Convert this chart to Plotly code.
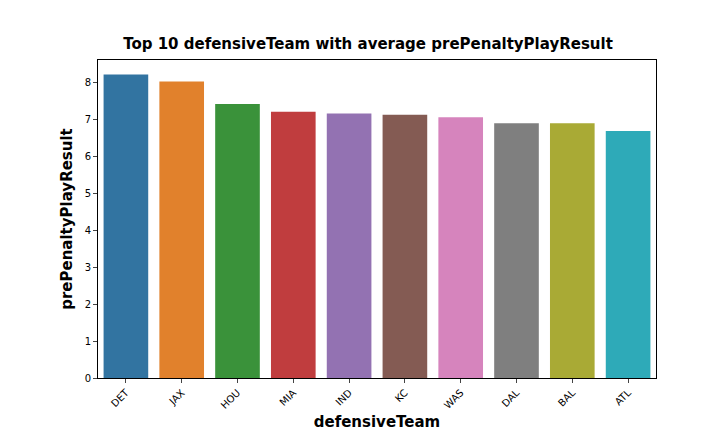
import plotly.graph_objects as go

teams = ["DET", "JAX", "HOU", "MIA", "IND", "KC", "WAS", "DAL", "BAL", "ATL"]
values = [8.21, 8.02, 7.41, 7.20, 7.15, 7.12, 7.05, 6.89, 6.89, 6.68]
colors = ["#3274a1", "#e1812c", "#3a923a", "#c03d3e", "#9372b2",
          "#845b53", "#d684bd", "#7f7f7f", "#a9aa35", "#2eaab8"]

fig = go.Figure(go.Bar(x=teams, y=values, marker_color=colors, marker_line_width=0, width=0.8))
fig.update_layout(
    width=720, height=432, plot_bgcolor="white", paper_bgcolor="white",
    margin=dict(l=90, r=72, t=52, b=54),
    title=dict(text="<b>Top 10 defensiveTeam with average prePenaltyPlayResult</b>",
               x=0.5, xanchor="center", y=0.905, yanchor="bottom",
               font=dict(family="DejaVu Sans", size=15, color="black")),
    font=dict(family="DejaVu Sans", size=10, color="black"),
    showlegend=False,
)
fig.update_xaxes(title=dict(text="<b>defensiveTeam</b>", font=dict(size=15), standoff=6),
                 tickangle=-45, showline=True, linecolor="black", mirror=True,
                 ticks="outside", ticklen=4, range=[-0.5, 9.5])
fig.update_yaxes(title=dict(text="<b>prePenaltyPlayResult</b>", font=dict(size=15), standoff=8),
                 range=[0, 8.6], dtick=1, showgrid=False, zeroline=False,
                 showline=True, linecolor="black", mirror=True, ticks="outside", ticklen=4)
fig.write_html("out.html")
